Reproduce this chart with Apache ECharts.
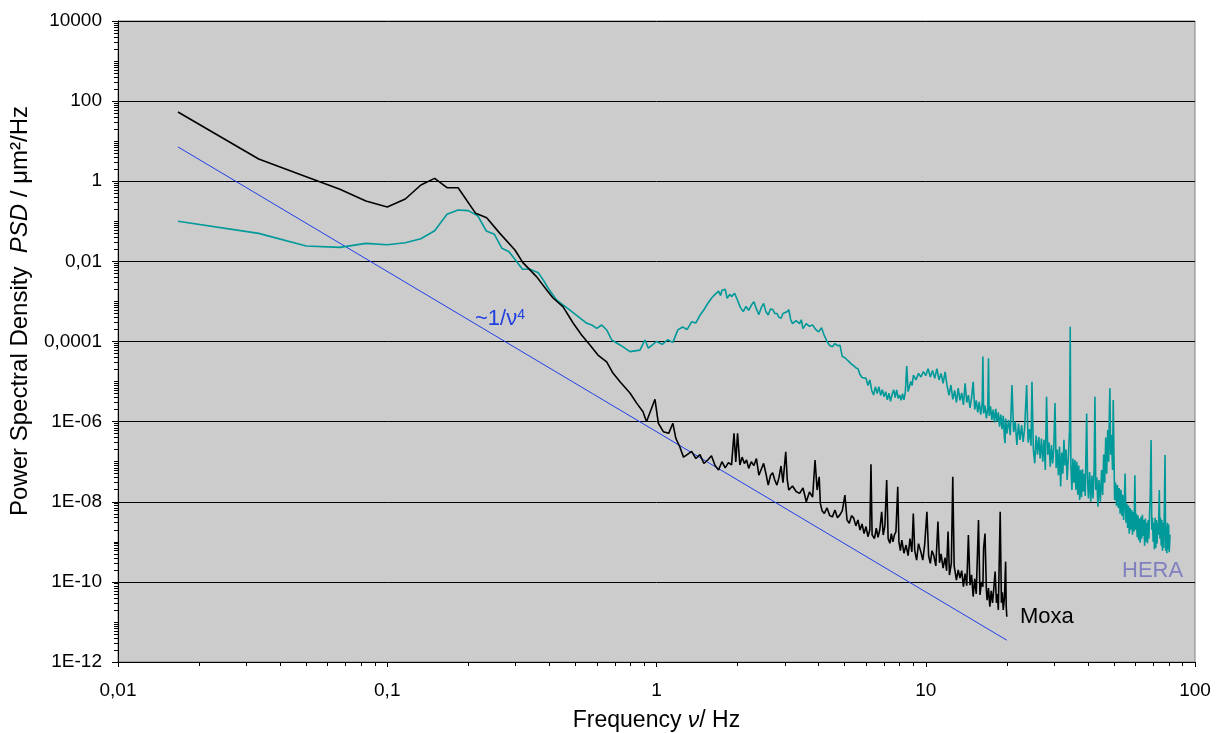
<!DOCTYPE html>
<html>
<head>
<meta charset="utf-8">
<script src="https://cdn.jsdelivr.net/npm/echarts@6/dist/echarts.min.js"></script>
<style>
  html, body { margin: 0; padding: 0; background: #fff; }
  #chart { width: 1223px; height: 733px; }
</style>
</head>
<body>
<div id="chart"></div>
<script>
// tick labels (Excel style, decimal comma)
var xTickLabels = ['0,01', '0,1', '1', '10', '100'];
var yTickLabels = ['1E-12', '1E-10', '1E-08', '1E-06', '0,0001', '0,01', '1', '100', '10000'];

// Moxa spectrum [frequency Hz, PSD um^2/Hz]
var moxaPoints = [
  [0.0167, 53.5], [0.0333, 3.59], [0.05, 1.30], [0.0667, 0.63], [0.0833, 0.32],
  [0.1, 0.228], [0.1167, 0.36], [0.1333, 0.805], [0.15, 1.18], [0.1667, 0.69],
  [0.1833, 0.69], [0.213, 0.158], [0.234, 0.123], [0.262, 0.050], [0.298, 0.0192],
  [0.319, 0.0093], [0.359, 0.0041], [0.391, 0.00193], [0.413, 0.00122], [0.45, 7.3e-4],
  [0.49, 2.9e-4], [0.527, 1.45e-4], [0.566, 8.2e-5], [0.606, 4.6e-5], [0.653, 3.1e-5],
  [0.689, 1.63e-5], [0.732, 9.9e-6], [0.797, 5.2e-6], [0.844, 2.9e-6], [0.891, 1.77e-6],
  [0.918, 9.9e-7], [0.987, 3.6e-6], [1.016, 9.1e-7], [1.06, 5.6e-7], [1.11, 5.1e-7],
  [1.15, 9.1e-7], [1.18, 3.8e-7], [1.22, 2.36e-7], [1.26, 1.3e-7],
  [1.30, 1.5e-7], [1.35, 1.8e-7], [1.40, 1.2e-7], [1.45, 1.5e-7], [1.50, 9.0e-8],
  [1.55, 1.1e-7], [1.60, 1.4e-7], [1.65, 8.0e-8], [1.70, 6.2e-8], [1.75, 1.0e-7],
  [1.80, 7.0e-8], [1.85, 9.5e-8], [1.90, 8.3e-8], [1.94, 5.1e-7], [1.97, 9.8e-8],
  [2.00, 5.1e-7], [2.04, 8.3e-8], [2.08, 1.3e-7], [2.12, 9.0e-8], [2.16, 1.1e-7],
  [2.20, 6.8e-8], [2.25, 1.0e-7], [2.30, 8.0e-8], [2.35, 1.2e-7], [2.40, 4.6e-8],
  [2.45, 6.5e-8], [2.50, 9.1e-8], [2.55, 5.0e-8], [2.60, 2.6e-8], [2.65, 4.5e-8],
  [2.70, 5.3e-8], [2.75, 3.5e-8], [2.80, 2.6e-8], [2.85, 4.0e-8], [2.90, 7.8e-8],
  [2.95, 3.0e-8], [3.02, 1.77e-7], [3.06, 3.5e-8], [3.10, 1.96e-8], [3.20, 2.47e-8],
  [3.30, 1.8e-8], [3.40, 1.62e-8], [3.50, 2.2e-8], [3.60, 1.0e-8], [3.70, 1.75e-8],
  [3.80, 1.3e-8], [3.88, 1.1e-7], [3.95, 1.96e-8], [4.02, 4.2e-8], [4.06, 9.1e-9],
  [4.12, 6.0e-9], [4.20, 5.1e-9], [4.30, 7.0e-9], [4.40, 4.5e-9], [4.50, 4.2e-9],
  [4.60, 6.2e-9], [4.70, 4.0e-9], [4.80, 4.7e-9], [4.90, 6.0e-9], [5.01, 1.47e-8],
  [5.10, 3.5e-9], [5.20, 2.9e-9], [5.30, 4.5e-9], [5.40, 3.9e-9], [5.50, 2.5e-9],
  [5.60, 3.5e-9], [5.70, 1.97e-9], [5.80, 2.8e-9], [5.90, 1.6e-9], [6.00, 2.4e-9],
  [6.10, 1.34e-9], [6.20, 2.0e-9], [6.26, 8.6e-8], [6.32, 1.5e-9], [6.45, 1.2e-9],
  [6.55, 2.2e-9], [6.65, 1.3e-9], [6.75, 2.0e-9], [6.86, 5.6e-9], [6.95, 1.48e-9],
  [7.05, 2.5e-9], [7.16, 3.5e-8], [7.25, 1.2e-9], [7.36, 9.2e-10], [7.45, 1.6e-9],
  [7.55, 1.0e-9], [7.65, 1.48e-9], [7.75, 1.8e-9], [7.87, 2.37e-8], [7.95, 1.0e-9],
  [8.05, 6.0e-10], [8.15, 1.1e-9], [8.30, 5.2e-10], [8.45, 8.3e-10], [8.60, 4.5e-10],
  [8.74, 1.2e-9], [8.88, 5.6e-10], [8.99, 5.1e-9], [9.10, 6.0e-10], [9.25, 3.5e-10],
  [9.40, 9.0e-10], [9.59, 5.6e-10], [9.75, 3.5e-10], [9.90, 8.0e-10], [10.1, 5.6e-9],
  [10.25, 4.5e-10], [10.4, 2.9e-10], [10.55, 6.0e-10], [10.7, 4.7e-10], [10.9, 2.5e-10],
  [11.1, 3.2e-9], [11.25, 3.0e-10], [11.4, 5.0e-10], [11.6, 2.2e-10], [11.8, 4.0e-10],
  [11.95, 1.9e-10], [12.1, 1.8e-9], [12.25, 1.48e-10], [12.45, 3.0e-10], [12.6, 4.2e-8],
  [12.75, 2.5e-10], [13.0, 1.11e-10], [13.2, 2.0e-10], [13.4, 1.25e-10], [13.6, 1.9e-10],
  [13.8, 7.6e-11], [14.0, 1.6e-10], [14.2, 8.0e-11], [14.4, 1.48e-9], [14.6, 8.3e-11],
  [14.8, 1.5e-10], [15.0, 4.3e-11], [15.2, 1.2e-10], [15.4, 5.0e-11], [15.7, 3.5e-9],
  [15.9, 4.7e-11], [16.1, 1.0e-10], [16.3, 7.6e-11], [16.4, 6.9e-10], [16.6, 1.6e-9],
  [16.8, 6.0e-11], [16.9, 3.5e-11], [17.1, 7.0e-11], [17.3, 2.4e-11], [17.5, 6.0e-11],
  [17.7, 3.0e-11], [17.9, 7.0e-11], [18.1, 1.8e-10], [18.3, 3.0e-11], [18.45, 5.0e-11],
  [18.6, 2.0e-11], [18.9, 5.6e-9], [19.1, 3.0e-11], [19.25, 5.5e-11], [19.4, 2.0e-11],
  [19.6, 4.0e-11], [19.8, 3.2e-10], [19.9, 2.5e-11], [20.0, 1.35e-11]
];

// HERA spectrum [frequency Hz, PSD um^2/Hz]
var heraPoints = [
  [0.0167, 0.1], [0.0333, 0.050], [0.05, 0.0242], [0.0667, 0.0224], [0.0833, 0.0282],
  [0.1, 0.026], [0.1167, 0.0292], [0.1333, 0.0368], [0.15, 0.0582], [0.1667, 0.150],
  [0.1833, 0.191], [0.2, 0.185], [0.2167, 0.138], [0.2333, 0.0573], [0.25, 0.0473],
  [0.2667, 0.0212], [0.2833, 0.0174], [0.318, 0.00634], [0.339, 0.00634], [0.364, 0.0052],
  [0.38, 0.0034], [0.396, 0.00213], [0.426, 0.00108], [0.477, 6.1e-4], [0.551, 2.84e-4],
  [0.575, 2.58e-4], [0.600, 2.13e-4], [0.626, 2.58e-4], [0.653, 1.94e-4], [0.682, 1.09e-4],
  [0.732, 8.2e-5], [0.797, 5.6e-5], [0.868, 6.1e-5], [0.906, 1.09e-4], [0.933, 6.8e-5],
  [1.00, 1.0e-4], [1.05, 8.5e-5], [1.10, 1.1e-4], [1.15, 9.5e-5], [1.20, 1.95e-4],
  [1.25, 2.3e-4], [1.30, 2.0e-4], [1.35, 3.1e-4], [1.40, 2.9e-4], [1.45, 4.5e-4],
  [1.50, 6.2e-4], [1.55, 8.9e-4], [1.60, 1.2e-3], [1.65, 1.5e-3], [1.70, 1.8e-3],
  [1.73, 1.4e-3], [1.75, 1.9e-3], [1.80, 2.0e-3], [1.83, 1.2e-3], [1.87, 1.5e-3],
  [1.90, 1.32e-3], [1.95, 1.6e-3], [2.00, 1.07e-3], [2.05, 7.0e-4], [2.10, 5.6e-4],
  [2.15, 7.5e-4], [2.20, 6.0e-4], [2.25, 8.0e-4], [2.30, 9.8e-4], [2.35, 6.5e-4],
  [2.40, 4.7e-4], [2.45, 7.0e-4], [2.50, 8.9e-4], [2.55, 5.5e-4], [2.60, 4.6e-4],
  [2.65, 6.5e-4], [2.70, 6.3e-4], [2.75, 5.0e-4], [2.80, 5.0e-4], [2.85, 4.0e-4],
  [2.90, 3.8e-4], [2.95, 5.0e-4], [3.00, 4.6e-4], [3.05, 5.5e-4], [3.10, 6.2e-4],
  [3.15, 3.5e-4], [3.20, 2.8e-4], [3.30, 3.3e-4], [3.40, 2.8e-4], [3.45, 3.5e-4],
  [3.50, 2.1e-4], [3.60, 2.8e-4], [3.70, 2.4e-4], [3.80, 2.6e-4], [3.90, 2.0e-4],
  [4.00, 1.74e-4], [4.10, 2.2e-4], [4.20, 1.4e-4], [4.30, 1.0e-4], [4.40, 7.9e-5],
  [4.50, 7.4e-5], [4.60, 8.9e-5], [4.70, 7.9e-5], [4.80, 8.1e-5], [4.90, 4.2e-5],
  [5.00, 4.0e-5], [5.10, 3.5e-5], [5.20, 3.1e-5], [5.30, 2.7e-5], [5.40, 2.5e-5],
  [5.50, 2.2e-5], [5.60, 2.1e-5], [5.70, 1.5e-5], [5.80, 1.26e-5], [5.90, 1.4e-5],
  [6.0, 1.2e-5], [6.1, 8.0e-6], [6.2, 1.1e-5], [6.3, 6.0e-6], [6.4, 4.6e-6],
  [6.5, 7.4e-6], [6.6, 5.0e-6], [6.7, 7.4e-6], [6.8, 4.5e-6], [6.9, 6.3e-6],
  [7.0, 4.2e-6], [7.1, 5.6e-6], [7.2, 3.5e-6], [7.3, 5.1e-6], [7.4, 3.2e-6],
  [7.5, 4.8e-6], [7.6, 6.2e-6], [7.7, 4.0e-6], [7.8, 6.2e-6], [7.9, 3.8e-6],
  [8.0, 4.6e-6], [8.1, 3.4e-6], [8.2, 5.0e-6], [8.3, 3.5e-6], [8.4, 5.5e-6],
  [8.5, 2.45e-5], [8.6, 5.6e-6], [8.7, 7.5e-6], [8.8, 1.0e-5], [8.9, 8.0e-6],
  [9.0, 1.45e-5], [9.2, 1.1e-5], [9.4, 1.6e-5], [9.6, 1.3e-5], [9.8, 1.78e-5],
  [10.0, 1.4e-5], [10.2, 2.1e-5], [10.4, 1.3e-5], [10.6, 1.9e-5], [10.8, 1.2e-5],
  [11.0, 2.1e-5], [11.2, 1.1e-5], [11.4, 1.6e-5], [11.6, 9.0e-6], [11.8, 1.74e-5],
  [12.0, 7.9e-6], [12.2, 4.5e-6], [12.4, 8.2e-6], [12.6, 3.6e-6], [12.8, 6.0e-6],
  [13.0, 3.0e-6], [13.2, 6.9e-6], [13.4, 3.4e-6], [13.6, 5.2e-6], [13.8, 2.6e-6],
  [14.0, 9.0e-6], [14.2, 3.0e-6], [14.4, 4.6e-6], [14.6, 2.2e-6], [14.8, 4.0e-6],
  [15.0, 9.9e-6], [15.2, 2.0e-6], [15.4, 3.4e-6], [15.6, 1.7e-6], [15.8, 3.1e-6],
  [16.0, 1.5e-6], [16.2, 2.8e-6], [16.3, 4.2e-5], [16.4, 1.6e-6], [16.6, 2.5e-6],
  [16.8, 1.2e-6], [17.0, 2.2e-6], [17.1, 3.8e-5], [17.2, 1.4e-6], [17.4, 2.4e-6],
  [17.6, 1.1e-6], [17.8, 2.0e-6], [18.0, 9.5e-7], [18.2, 2.1e-6], [18.4, 1.0e-6],
  [18.6, 1.7e-6], [18.8, 7.5e-7], [19.0, 1.5e-6], [19.2, 6.5e-7], [19.4, 1.4e-6],
  [19.6, 4.0e-7], [19.7, 2.9e-7], [19.8, 1.2e-6], [20.0, 5.0e-7], [20.3, 1.1e-6],
  [20.6, 4.6e-7], [20.9, 8.2e-6], [21.2, 5.5e-7], [21.5, 1.0e-6], [21.8, 2.6e-7],
  [22.1, 9.0e-7], [22.4, 3.5e-7], [22.7, 8.2e-7], [23.0, 3.1e-7], [23.3, 7.0e-7],
  [23.7, 8.2e-6], [24.0, 3.0e-7], [24.3, 6.5e-7], [24.6, 2.5e-7], [24.8, 9.9e-6],
  [25.1, 2.0e-7], [25.4, 9.1e-8], [25.7, 4.5e-7], [26.0, 1.5e-7], [26.3, 4.1e-7],
  [26.6, 1.2e-7], [26.9, 3.8e-7], [27.2, 1.0e-7], [27.5, 3.5e-7], [27.8, 6.2e-8],
  [28.1, 4.2e-6], [28.4, 1.5e-7], [28.7, 3.0e-7], [29.0, 7.5e-8], [29.3, 2.6e-7],
  [29.6, 9.0e-8], [29.9, 2.2e-7], [30.2, 2.9e-6], [30.5, 7.0e-8], [30.8, 2.0e-7],
  [31.1, 4.6e-8], [31.4, 2.4e-7], [31.7, 2.4e-8], [32.0, 1.7e-7], [32.3, 5.0e-8],
  [32.6, 3.5e-7], [32.9, 8.0e-8], [33.2, 2.0e-7], [33.5, 3.5e-8], [33.9, 1.5e-7],
  [34.2, 6.0e-7], [34.4, 2.34e-4], [34.6, 8.0e-8], [34.9, 1.96e-8], [35.2, 1.2e-7],
  [35.5, 3.0e-8], [35.8, 1.1e-7], [36.1, 2.0e-8], [36.4, 1.0e-7], [36.7, 1.5e-8],
  [37.0, 8.0e-8], [37.3, 1.1e-8], [37.6, 6.2e-8], [37.9, 1.3e-8], [38.2, 6.5e-8],
  [38.5, 1.8e-8], [38.8, 5.0e-8], [39.1, 1.4e-8], [39.6, 1.6e-6], [39.9, 3.5e-8],
  [40.2, 1.2e-8], [40.6, 5.5e-8], [41.0, 1.0e-8], [41.4, 4.5e-8], [41.8, 1.2e-8],
  [42.2, 6.0e-8], [42.5, 4.2e-6], [42.8, 2.0e-8], [43.2, 4.0e-8], [43.6, 7.5e-9],
  [44.0, 3.5e-8], [44.5, 1.0e-8], [45.0, 6.2e-8], [45.4, 1.47e-8], [45.8, 1.5e-7],
  [46.2, 3.0e-8], [46.6, 4.0e-7], [47.0, 5.0e-8], [47.4, 6.2e-7], [47.8, 1.0e-7],
  [48.1, 2.0e-6], [48.3, 6.8e-6], [48.6, 1.5e-7], [49.0, 4.6e-7], [49.4, 6.2e-8],
  [49.7, 3.46e-6], [50.0, 1.5e-7], [50.3, 1.1e-8], [50.7, 3.0e-8], [51.1, 8.0e-9],
  [51.5, 2.6e-8], [51.9, 7.0e-9], [52.3, 2.2e-8], [52.7, 5.0e-9], [53.1, 2.0e-8],
  [53.5, 4.5e-9], [53.9, 1.5e-8], [54.3, 3.5e-9], [54.7, 1.2e-8], [55.0, 5.1e-8],
  [55.4, 3.0e-9], [55.8, 9.0e-9], [56.2, 2.2e-9], [56.6, 8.0e-9], [57.0, 1.6e-9],
  [57.4, 7.0e-9], [57.8, 2.0e-9], [58.2, 6.2e-9], [58.6, 1.5e-9], [59.0, 5.5e-9],
  [59.4, 1.8e-9], [59.8, 4.6e-8], [60.2, 2.0e-9], [60.6, 5.0e-9], [61.0, 1.3e-9],
  [61.4, 4.5e-9], [61.8, 1.1e-9], [62.2, 3.8e-9], [62.6, 9.5e-10], [63.0, 4.2e-9],
  [63.4, 1.2e-9], [63.8, 4.7e-9], [64.2, 1.4e-9], [64.6, 3.5e-9], [65.0, 8.0e-10],
  [65.4, 3.8e-9], [65.8, 1.0e-9], [66.2, 3.0e-9], [66.6, 9.2e-10], [67.0, 3.5e-9],
  [67.4, 1.2e-9], [67.8, 5.0e-9], [68.2, 1.5e-8], [68.7, 3.5e-7], [69.1, 2.0e-9],
  [69.5, 4.0e-9], [69.9, 1.0e-9], [70.3, 3.0e-9], [70.7, 6.5e-10], [71.1, 4.0e-9],
  [71.5, 7.0e-10], [71.9, 3.5e-9], [72.3, 9.0e-10], [72.7, 3.0e-9], [73.1, 1.5e-9],
  [73.7, 1.96e-8], [74.1, 1.2e-9], [74.5, 4.0e-9], [74.9, 8.0e-10], [75.3, 3.5e-9],
  [75.7, 6.0e-10], [76.1, 3.0e-9], [76.5, 7.0e-10], [77.0, 1.0e-8], [77.4, 1.47e-7],
  [77.8, 6.0e-10], [78.2, 2.5e-9], [78.6, 5.2e-10], [79.0, 3.0e-9], [79.4, 6.5e-10],
  [79.8, 2.7e-9], [80.2, 5.5e-10], [80.8, 1.5e-9]
];

// ~1/nu^4 guide line, end points
var fitPoints = [[0.0167, 7.2], [20, 3.5e-12]];

var font = '"Liberation Sans", Arial, sans-serif';

function expOf(v, base) {
  return Math.round(Math.log(v) / Math.log(base));
}

var chart = echarts.init(document.getElementById('chart'));

var option = {
  animation: false,
  backgroundColor: '#ffffff',
  grid: {
    left: 118, right: 28, top: 21, bottom: 71,
    outerBoundsMode: 'none',
    containLabel: false,
    show: true,
    backgroundColor: '#cccccc',
    borderColor: '#808080',
    borderWidth: 1
  },
  xAxis: [{
    type: 'log',
    logBase: 10,
    min: 0.01,
    max: 100,
    interval: 1,
    axisLine: { show: true, onZero: false, lineStyle: { color: '#000', width: 1 } },
    axisTick: { show: true, length: 5, lineStyle: { color: '#000' } },
    minorTick: { show: true, splitNumber: 9, length: 4, lineStyle: { color: '#000' } },
    splitLine: { show: false },
    axisLabel: {
      color: '#000', fontFamily: font, fontSize: 19, margin: 19,
      formatter: function (v) { return xTickLabels[expOf(v, 10) + 2]; }
    },
    name: '{t|Frequency }{i|ν}{t|/ Hz}',
    nameLocation: 'middle',
    nameGap: 47,
    nameTextStyle: {
      rich: {
        t: { fontFamily: font, fontSize: 23, color: '#000' },
        i: { fontFamily: font, fontSize: 23, fontStyle: 'italic', color: '#000' }
      }
    }
  }],
  yAxis: [{
    // decade + minor ticks
    type: 'log',
    logBase: 10,
    min: 1e-12,
    max: 1e4,
    interval: 1,
    axisLine: { show: true, onZero: false, lineStyle: { color: '#000', width: 1 } },
    axisTick: { show: true, length: 4, lineStyle: { color: '#000' } },
    minorTick: { show: true, splitNumber: 9, length: 4, lineStyle: { color: '#000' } },
    splitLine: { show: false },
    axisLabel: { show: false }
  }, {
    // labelled major ticks every 2 decades + gridlines
    type: 'log',
    logBase: 100,
    min: 1e-12,
    max: 1e4,
    interval: 1,
    position: 'left',
    axisLine: { show: false },
    axisTick: { show: true, length: 6, lineStyle: { color: '#000' } },
    splitLine: { show: true, lineStyle: { color: '#000', width: 1 } },
    axisLabel: {
      color: '#000', fontFamily: font, fontSize: 19, margin: 16,
      formatter: function (v) { return yTickLabels[(expOf(v, 10) + 12) / 2]; }
    }
  }],
  series: [{
    name: '1/nu4',
    type: 'line',
    data: fitPoints,
    showSymbol: false,
    symbol: 'none',
    lineStyle: { color: '#1f3fe8', width: 1 },
    z: 2
  }, {
    name: 'HERA',
    type: 'line',
    data: heraPoints,
    showSymbol: false,
    symbol: 'none',
    lineStyle: { color: '#009999', width: 1.6 },
    z: 3
  }, {
    name: 'Moxa',
    type: 'line',
    data: moxaPoints,
    showSymbol: false,
    symbol: 'none',
    lineStyle: { color: '#000000', width: 1.6 },
    z: 4
  }],
  graphic: [{
    type: 'text',
    x: 20, y: 311,
    rotation: Math.PI / 2,
    style: {
      text: '{t|Power Spectral Density  }{i|PSD}{t| / μm²/Hz}',
      align: 'center', verticalAlign: 'middle',
      rich: {
        t: { fontFamily: font, fontSize: 24, fill: '#000' },
        i: { fontFamily: font, fontSize: 24, fontStyle: 'italic', fill: '#000' }
      }
    }
  }, {
    type: 'text',
    x: 475, y: 319,
    style: {
      text: '{a|~1/ν}{s|4}',
      align: 'left', verticalAlign: 'middle',
      rich: {
        a: { fontFamily: font, fontSize: 22, fill: '#2040e0' },
        s: { fontFamily: font, fontSize: 14, fill: '#2040e0', verticalAlign: 'top' }
      }
    }
  }, {
    type: 'text',
    x: 1020, y: 617,
    style: { text: 'Moxa', fontFamily: font, fontSize: 22, fill: '#000', align: 'left', verticalAlign: 'middle' }
  }, {
    type: 'text',
    x: 1122, y: 571,
    style: { text: 'HERA', fontFamily: font, fontSize: 22, fill: '#8080c0', align: 'left', verticalAlign: 'middle' }
  }]
};

chart.setOption(option);
</script>
</body>
</html>
